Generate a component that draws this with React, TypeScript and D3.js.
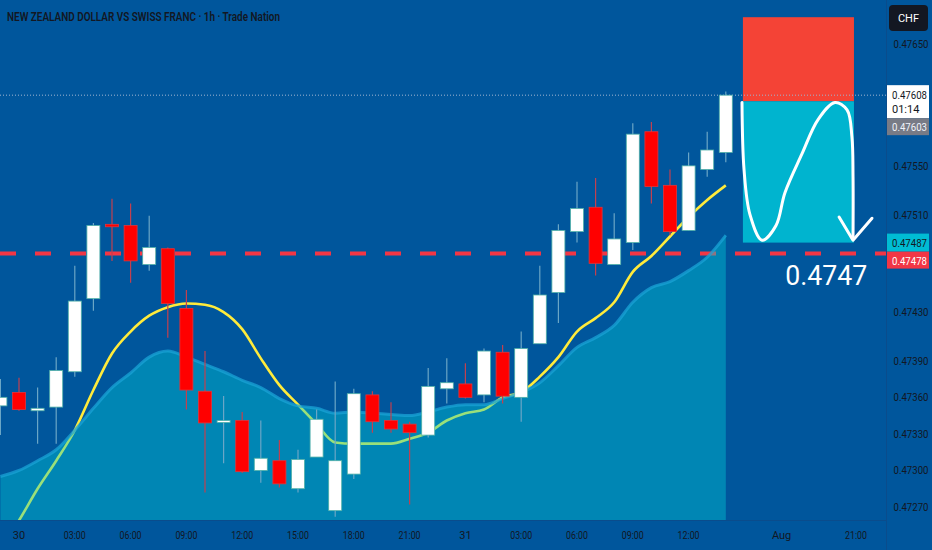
import { useMemo } from 'react';
import * as d3 from 'd3';

// Bars start one hour before "30" (index -1) and end at 31 14:00 (index 38)
const firstIndex = -1;

const opens = [
  0.47353, 0.47364, 0.47349, 0.47352, 0.47381, 0.47441, 0.47502, 0.47501, 0.47469, 0.47482,
  0.47433, 0.47365, 0.4734, 0.47341, 0.473, 0.47308, 0.47285, 0.47311, 0.47267, 0.47297,
  0.47362, 0.47341, 0.47338, 0.47329, 0.47367, 0.47371, 0.47362, 0.47397, 0.4736, 0.47404,
  0.47446, 0.47496, 0.47516, 0.47469, 0.47487, 0.47578, 0.47534, 0.47497, 0.47547, 0.47561,
];
const highs = [
  0.47375, 0.47376, 0.47368, 0.47393, 0.47468, 0.47503, 0.47523, 0.47519, 0.47509, 0.47483,
  0.47448, 0.47398, 0.47361, 0.47348, 0.47341, 0.47325, 0.47317, 0.4735, 0.47373, 0.47367,
  0.47365, 0.47356, 0.4734, 0.47384, 0.47392, 0.47388, 0.474, 0.47403, 0.47414, 0.47468,
  0.47502, 0.47537, 0.4754, 0.47511, 0.47585, 0.47586, 0.47547, 0.47561, 0.47578, 0.47611,
];
const lows = [
  0.47329, 0.47349, 0.47322, 0.47322, 0.47377, 0.47431, 0.47472, 0.47454, 0.47464, 0.47409,
  0.4735, 0.47282, 0.47306, 0.47298, 0.4729, 0.47286, 0.47282, 0.47311, 0.47262, 0.47293,
  0.47331, 0.47331, 0.47272, 0.47327, 0.47355, 0.47359, 0.47356, 0.47355, 0.4734, 0.47404,
  0.47421, 0.47487, 0.4746, 0.47469, 0.47481, 0.47519, 0.47493, 0.47497, 0.47541, 0.47553,
];
const closes = [
  0.4736, 0.4735, 0.47351, 0.47382, 0.47439, 0.47501, 0.475, 0.47472, 0.47483, 0.47437,
  0.47366, 0.47339, 0.47341, 0.47299, 0.4731, 0.47289, 0.47309, 0.47342, 0.47308, 0.47363,
  0.4734, 0.47334, 0.47331, 0.47369, 0.47372, 0.4736, 0.47398, 0.47361, 0.474, 0.47444,
  0.47497, 0.47515, 0.4747, 0.4749, 0.47576, 0.47533, 0.47496, 0.4755, 0.47563, 0.47608,
];

// yellow fast average and the slow average drawn as the filled area
const fastMa = [
  0.47236, 0.47259, 0.47285, 0.47308, 0.47333, 0.47366, 0.47396, 0.47414, 0.47427, 0.47434,
  0.47437, 0.47436, 0.4743, 0.47416, 0.47392, 0.4737, 0.47354, 0.47338, 0.47323, 0.47322,
  0.47322, 0.47322, 0.47326, 0.47331, 0.47341, 0.47347, 0.4735, 0.4736, 0.47364, 0.47377,
  0.47393, 0.47414, 0.47425, 0.47438, 0.47463, 0.47476, 0.47492, 0.47508, 0.47522, 0.47534,
];
const slowMa = [
  0.47295, 0.473, 0.47308, 0.47317, 0.47333, 0.47351, 0.47368, 0.4738, 0.47393, 0.47398,
  0.47393, 0.47387, 0.47381, 0.47374, 0.47368, 0.47359, 0.47353, 0.47351, 0.47347, 0.47348,
  0.47347, 0.47346, 0.47345, 0.47348, 0.47352, 0.47354, 0.47354, 0.47359, 0.47364, 0.47372,
  0.47386, 0.47401, 0.47409, 0.47419, 0.47438, 0.4745, 0.47455, 0.47464, 0.47475, 0.47493,
];

const timeTickIndex = [0, 3, 6, 9, 12, 15, 18, 21, 24, 27, 30, 33, 36, 41, 45];
const timeTickLabels = [
  '30', '03:00', '06:00', '09:00', '12:00', '15:00', '18:00', '21:00',
  '31', '03:00', '06:00', '09:00', '12:00', 'Aug', '21:00',
];
const priceTicks = [0.4765, 0.4755, 0.4751, 0.4743, 0.4739, 0.4736, 0.4733, 0.473, 0.4727];

// short position drawing
const positionStart = 38.92;
const positionEnd = 44.89;
const stopPrice = 0.47672;
const entryPrice = 0.47603;
const targetPrice = 0.47487;
const lastPrice = 0.47608;
const lineLevel = 0.47478;
const countdown = '01:14';
const targetText = '0.4747';

const arrowPath: [number, number][] = [
  [38.87, 0.47602], [38.98, 0.47547], [39.3, 0.4751], [39.95, 0.47489], [40.7, 0.47501],
  [41.18, 0.47528], [42.1, 0.4756], [42.96, 0.47588], [43.87, 0.47602], [44.52, 0.47596],
  [44.78, 0.47574], [44.84, 0.47541], [44.84, 0.47491],
];
const arrowHead: [number, number][] = [[44.09, 0.47508], [44.84, 0.47489], [45.86, 0.47507]];

const W = 932;
const H = 550;
const plotRight = 886;
const plotBottom = 520;
const BG = '#00569c';
const FONT = 'Roboto, "Noto Sans", sans-serif';

export default function App() {
  const x = useMemo(() => d3.scaleLinear().domain([0, 38]).range([19, 725.8]), []);
  const y = useMemo(() => d3.scaleLinear().domain([0.4727, 0.4765]).range([507, 44]), []);

  const bars = opens.map((o, k) => ({
    i: firstIndex + k,
    o,
    h: highs[k],
    l: lows[k],
    c: closes[k],
  }));

  const fastLine = d3
    .line<number>()
    .x((_, k) => x(firstIndex + k))
    .y((d) => y(d))
    .curve(d3.curveMonotoneX)(fastMa) ?? '';

  const slowArea = d3
    .area<number>()
    .x((_, k) => x(firstIndex + k))
    .y0(plotBottom)
    .y1((d) => y(d))
    .curve(d3.curveMonotoneX)(slowMa) ?? '';

  const slowLine = d3
    .line<number>()
    .x((_, k) => x(firstIndex + k))
    .y((d) => y(d))
    .curve(d3.curveMonotoneX)(slowMa) ?? '';

  const arrow = d3
    .line<[number, number]>()
    .x((d) => x(d[0]))
    .y((d) => y(d[1]))
    .curve(d3.curveCatmullRom)(arrowPath) ?? '';
  const head = d3
    .line<[number, number]>()
    .x((d) => x(d[0]))
    .y((d) => y(d[1]))(arrowHead) ?? '';

  const bodyW = 13;
  const labelX = plotRight + 1;
  const labelW = 42;

  // price labels on the axis, stacked like the platform does
  const lastTop = y(lastPrice) - 10;
  const entryTop = lastTop + 33;
  const targetTop = y(targetPrice) - 9;
  const levelTop = targetTop + 18;

  return (
    <svg
      width={W}
      height={H}
      style={{ position: 'absolute', left: 0, top: 0, display: 'block' }}
      fontFamily={FONT}
    >
      <defs>
        <clipPath id="plot">
          <rect x={0} y={0} width={plotRight} height={plotBottom} />
        </clipPath>
      </defs>
      <rect width={W} height={H} fill={BG} />

      <g clipPath="url(#plot)">
        {/* stop / target boxes */}
        <rect
          x={x(positionStart)}
          y={y(stopPrice)}
          width={x(positionEnd) - x(positionStart)}
          height={y(entryPrice) - y(stopPrice)}
          fill="#f44336"
        />
        <rect
          x={x(positionStart)}
          y={y(entryPrice)}
          width={x(positionEnd) - x(positionStart)}
          height={y(targetPrice) - y(entryPrice)}
          fill="#00b4cf"
        />

        {/* last price dotted line */}
        <line
          x1={0}
          x2={plotRight}
          y1={y(lastPrice)}
          y2={y(lastPrice)}
          stroke="#9fb6d2"
          strokeWidth={1}
          strokeDasharray="1,2"
        />

        {/* horizontal red level */}
        <line
          x1={0}
          x2={plotRight}
          y1={y(lineLevel)}
          y2={y(lineLevel)}
          stroke="#f23645"
          strokeWidth={4}
          strokeDasharray="16,19"
        />

        <path d={fastLine} fill="none" stroke="#ffeb3b" strokeWidth={2.6} />
        <path d={slowArea} fill="rgb(0,208,218)" fillOpacity={0.4} />
        <path d={slowLine} fill="none" stroke="#1aa3d6" strokeWidth={3} strokeOpacity={0.75} />

        {bars.map((b) => {
          const up = b.c >= b.o;
          const top = y(Math.max(b.o, b.c));
          const bh = Math.max(2, Math.abs(y(b.o) - y(b.c)));
          const cx = x(b.i);
          return (
            <g key={b.i}>
              <line
                x1={cx}
                x2={cx}
                y1={y(b.h)}
                y2={y(b.l)}
                stroke={up ? '#6aa6c6' : '#c2404f'}
                strokeWidth={1.2}
              />
              <rect
                x={cx - bodyW / 2}
                y={top}
                width={bodyW}
                height={bh}
                fill={up ? '#ffffff' : '#ff0000'}
                stroke={up ? '#4fb0a8' : '#e2343a'}
                strokeWidth={0.8}
              />
            </g>
          );
        })}

        <path d={arrow} fill="none" stroke="#ffffff" strokeWidth={3} strokeLinecap="round" />
        <path d={head} fill="none" stroke="#ffffff" strokeWidth={3} strokeLinecap="round" strokeLinejoin="round" />

        <text
          x={x(45.6)}
          y={y(0.47452)}
          textAnchor="end"
          fill="#ffffff"
          fontSize={28}
          textLength={82}
          lengthAdjust="spacingAndGlyphs"
        >
          {targetText}
        </text>
      </g>

      {/* pane separators */}
      <line x1={plotRight + 0.5} x2={plotRight + 0.5} y1={0} y2={H} stroke="#0a4c8c" />
      <line x1={0} x2={plotRight} y1={plotBottom + 0.5} y2={plotBottom + 0.5} stroke="#0a4c8c" />

      <text
        x={7}
        y={21}
        fill="#131722"
        fontSize={12.5}
        fontWeight={600}
        textLength={273}
        lengthAdjust="spacingAndGlyphs"
      >
        NEW ZEALAND DOLLAR VS SWISS FRANC · 1h · Trade Nation
      </text>

      {/* price axis */}
      {priceTicks.map((p) => (
        <text
          key={p}
          x={911}
          y={y(p) + 4}
          textAnchor="middle"
          fill="#131722"
          fontSize={11}
          textLength={35}
          lengthAdjust="spacingAndGlyphs"
        >
          {p.toFixed(5)}
        </text>
      ))}

      <rect x={889} y={5} width={39} height={26} rx={4} fill="#131722" />
      <text x={908.5} y={22} textAnchor="middle" fill="#ffffff" fontSize={11}>
        CHF
      </text>

      <rect x={labelX} y={lastTop} width={labelW} height={33} fill="#ffffff" />
      <text x={labelX + 5} y={lastTop + 14} fill="#131722" fontSize={11} textLength={35} lengthAdjust="spacingAndGlyphs">
        {lastPrice.toFixed(5)}
      </text>
      <text x={labelX + 5} y={lastTop + 28} fill="#131722" fontSize={11}>
        {countdown}
      </text>
      <rect x={labelX} y={entryTop} width={labelW} height={17} fill="#787b86" />
      <text x={labelX + 5} y={entryTop + 13} fill="#f0f3fa" fontSize={11} textLength={35} lengthAdjust="spacingAndGlyphs">
        {entryPrice.toFixed(5)}
      </text>

      <rect x={labelX} y={targetTop} width={labelW} height={18} fill="#00bcd4" />
      <text x={labelX + 5} y={targetTop + 13} fill="#131722" fontSize={11} textLength={35} lengthAdjust="spacingAndGlyphs">
        {targetPrice.toFixed(5)}
      </text>
      <rect x={labelX} y={levelTop} width={labelW} height={17} fill="#f23645" />
      <text x={labelX + 5} y={levelTop + 13} fill="#ffffff" fontSize={11} textLength={35} lengthAdjust="spacingAndGlyphs">
        {lineLevel.toFixed(5)}
      </text>

      {/* time axis */}
      {timeTickIndex.map((t, k) => (
        <text
          key={k}
          x={x(t)}
          y={539}
          textAnchor="middle"
          fill="#131722"
          fontSize={11}
          textLength={timeTickLabels[k].length > 3 ? 22 : undefined}
          lengthAdjust="spacingAndGlyphs"
        >
          {timeTickLabels[k]}
        </text>
      ))}
    </svg>
  );
}
